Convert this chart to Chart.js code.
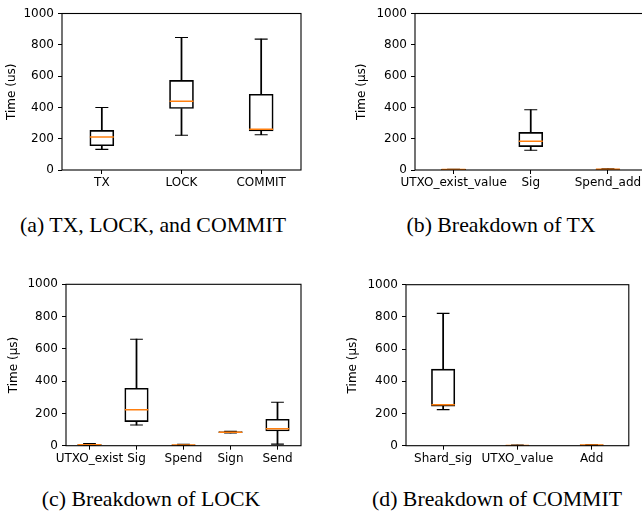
<!DOCTYPE html>
<html>
<head>
<meta charset="utf-8">
<script src="https://cdn.jsdelivr.net/npm/chart.js@4/dist/chart.umd.min.js"></script>
<style>
  html, body { margin: 0; padding: 0; background: #fff; }
  body { width: 642px; height: 516px; overflow: hidden; position: relative; }
  canvas { position: absolute; }
  .cap {
    position: absolute; white-space: nowrap; transform: translateX(-50%);
    font-family: "Liberation Serif", "Times New Roman", serif; font-size: 21.8px; line-height: 21.8px; color: #000;
  }
</style>
</head>
<body>
<canvas id="c-a" width="320" height="200" style="left:0;top:0"></canvas>
<canvas id="c-b" width="340" height="200" style="left:320px;top:0"></canvas>
<canvas id="c-c" width="320" height="200" style="left:0;top:270px"></canvas>
<canvas id="c-d" width="322" height="200" style="left:320px;top:270px"></canvas>
<div class="cap" style="left:153px;top:214.7px">(a) TX, LOCK, and COMMIT</div>
<div class="cap" style="left:501px;top:214.7px">(b) Breakdown of TX</div>
<div class="cap" style="left:151px;top:488.7px">(c) Breakdown of LOCK</div>
<div class="cap" style="left:497px;top:488.7px">(d) Breakdown of COMMIT</div>

<script>
// ──────────────── 数据 ────────────────
const yTicks = [0, 200, 400, 600, 800, 1000];

const mainLabels = ['TX', 'LOCK', 'COMMIT'];
const mainLow  = [132, 222, 225];
const mainQ1   = [155, 393, 250];
const mainMed  = [211, 439, 261];
const mainQ3   = [253, 573, 484];
const mainHigh = [399, 847, 836];

const txLabels = ['UTXO_exist_value', 'Sig', 'Spend_add'];
const txLow  = [1, 126, 2];
const txQ1   = [2, 149, 3];
const txMed  = [3, 184, 4];
const txQ3   = [4, 240, 6];
const txHigh = [5, 385, 8];

const lockLabels = ['UTXO_exist', 'Sig', 'Spend', 'Sign', 'Send'];
const lockLow  = [2, 128, 1, 79, 10];
const lockQ1   = [4, 149, 2, 81, 91];
const lockMed  = [6, 223, 4, 84, 105];
const lockQ3   = [8, 356, 6, 87, 164];
const lockHigh = [14, 660, 8, 89, 269];

const commitLabels = ['Shard_sig', 'UTXO_value', 'Add'];
const commitLow  = [224, 1, 2];
const commitQ1   = [245, 1.5, 3];
const commitMed  = [255, 2, 4];
const commitQ3   = [476, 3, 5];
const commitHigh = [822, 4, 7];

// ──────────────── 边框插件 ────────────────
const frame = {
  id: 'frame',
  afterDraw(chart) {
    const { ctx, chartArea: a } = chart;
    ctx.save();
    ctx.strokeStyle = '#000';
    ctx.lineWidth = 1.1;
    ctx.strokeRect(a.left, a.top, a.right - a.left, a.bottom - a.top);
    ctx.restore();
  }
};

const FONT = { family: 'DejaVu Sans', size: 12 };

// ──────────────── 箱线图 ────────────────
function boxChart(id, labels, low, q1, med, q3, high, lay) {
  const boxW = lay.boxW;
  const pair = (a, b) => a.map((v, i) => [v, b[i]]);
  const cap = d => ({
    type: 'line', data: d, showLine: false,
    pointStyle: 'line', pointRadius: boxW / 4 + 0.5, pointHoverRadius: boxW / 4 + 0.5,
    pointBorderColor: '#000', pointBorderWidth: 1.1, pointBackgroundColor: '#000'
  });
  const whisker = d => ({
    type: 'bar', data: d, grouped: false, barThickness: 1.1,
    backgroundColor: '#000', borderWidth: 0
  });
  return new Chart(document.getElementById(id), {
    data: {
      labels,
      datasets: [
        { type: 'line', data: med, showLine: false,
          pointStyle: 'line', pointRadius: boxW / 2, pointHoverRadius: boxW / 2,
          pointBorderColor: '#ff7f0e', pointBorderWidth: 1.5, pointBackgroundColor: '#ff7f0e' },
        cap(high),
        cap(low),
        { type: 'bar', data: pair(q1, q3), grouped: false, barThickness: boxW,
          backgroundColor: 'rgba(255,255,255,0)', borderColor: '#000', borderWidth: 1, borderSkipped: false },
        whisker(pair(low, q1)),
        whisker(pair(q3, high)),
      ]
    },
    options: {
      responsive: false,
      animation: false,
      events: [],
      layout: { padding: { left: lay.padL, right: lay.padR, top: lay.padT, bottom: 0 } },
      plugins: { legend: { display: false }, tooltip: { enabled: false } },
      scales: {
        x: {
          type: 'category', offset: true,
          grid: { offset: false, drawOnChartArea: false, drawTicks: true, tickLength: 4, color: '#000', lineWidth: 1 },
          border: { display: false },
          ticks: { color: '#000', font: FONT, padding: 2, autoSkip: false, maxRotation: 0, minRotation: 0 },
          afterFit: s => { s.height = lay.xH; }
        },
        y: {
          min: 0, max: 1000,
          afterBuildTicks: s => { s.ticks = yTicks.map(v => ({ value: v })); },
          grid: { drawOnChartArea: false, drawTicks: true, tickLength: 4, color: '#000', lineWidth: 1 },
          border: { display: false },
          ticks: { color: '#000', font: FONT, padding: 4, callback: v => String(v) },
          title: { display: true, text: lay.yTitle, color: '#000', font: FONT, padding: { top: 0, bottom: 0 } },
          afterFit: s => { s.width = lay.yW; }
        }
      }
    },
    plugins: [frame]
  });
}

boxChart('c-a', mainLabels, mainLow, mainQ1, mainMed, mainQ3, mainHigh,
  { boxW: 24, padL: 4.8, padR: 19, padT: 9, yW: 57.2, xH: 30, yTitle: 'Time (us)' });
boxChart('c-b', txLabels, txLow, txQ1, txMed, txQ3, txHigh,
  { boxW: 24, padL: 34.8, padR: 12, padT: 9, yW: 60.2, xH: 30, yTitle: 'Time (μs)' });
boxChart('c-c', lockLabels, lockLow, lockQ1, lockMed, lockQ3, lockHigh,
  { boxW: 23.5, padL: 6.8, padR: 19, padT: 14.3, yW: 59.2, xH: 24.3, yTitle: 'Time (μs)' });
boxChart('c-d', commitLabels, commitLow, commitQ1, commitMed, commitQ3, commitHigh,
  { boxW: 23.4, padL: 25.8, padR: 2.7, padT: 14.7, yW: 60.2, xH: 24.3, yTitle: 'Time (μs)' });
</script>
</body>
</html>
